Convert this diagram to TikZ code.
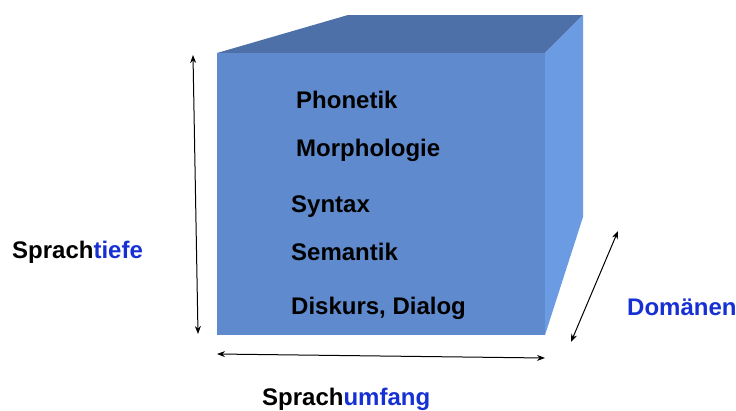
\documentclass[tikz,border=0pt]{standalone}
\usepackage{fontspec}
\setmainfont{Liberation Sans}
\usetikzlibrary{arrows.meta,positioning}
\definecolor{cubefront}{RGB}{95,138,205}
\definecolor{cubetop}{RGB}{77,112,168}
\definecolor{cubeside}{RGB}{106,155,227}
\definecolor{axisblue}{RGB}{22,48,212}

\begin{document}
\begin{tikzpicture}[
  x=1pt,y=-1pt,
  layer/.style={anchor=base west,inner sep=0pt,font=\fontsize{24}{28}\selectfont\bfseries},
  axislabel/.style={anchor=base west,inner sep=0pt,font=\fontsize{24}{28}\selectfont\bfseries},
  dimarr/.style={{Stealth[length=8pt,width=6pt]}-{Stealth[length=8pt,width=6pt]},line width=1pt,black}
]
  \useasboundingbox (0,0) rectangle (736,410);
  % Cube corners
  \coordinate (ftl) at (217,53);
  \coordinate (ftr) at (545,53);
  \coordinate (fbl) at (217,335);
  \coordinate (fbr) at (545,335);
  \coordinate (btl) at (348,15);
  \coordinate (btr) at (583,15);
  \coordinate (bbr) at (583,217);
  % Faces
  \fill[cubetop] (ftl) -- (btl) -- (btr) -- (ftr) -- cycle;
  \fill[cubeside] (ftr) -- (btr) -- (bbr) -- (fbr) -- cycle;
  \fill[cubefront] (ftl) rectangle (fbr);
  % Levels
  \node[layer] (phon) at (296,108) {Phonetik};
  \node[layer] (morph) at (296,156) {Morphologie};
  \node[layer] (syn) at (291,212) {Syntax};
  \node[layer] (sem) at (291,260) {Semantik};
  \node[layer] (disk) at (291,314) {Diskurs, Dialog};
  % Axes
  \coordinate (tiefeA) at (193,55);
  \coordinate (tiefeB) at (198,334);
  \coordinate (umfangA) at (217,354);
  \coordinate (umfangB) at (545,358);
  \coordinate (domA) at (618,231);
  \coordinate (domB) at (571,342);
  \draw[dimarr] (tiefeA) -- (tiefeB);
  \draw[dimarr] (umfangA) -- (umfangB);
  \draw[dimarr] (domA) -- (domB);
  \node[axislabel] (tiefe) at (12,258) {Sprach\textcolor{axisblue}{tiefe}};
  \node[axislabel] (umfang) at (262,405) {Sprach\textcolor{axisblue}{umfang}};
  \node[axislabel,axisblue] (dom) at (627,315) {Domänen};
\end{tikzpicture}
\end{document}
